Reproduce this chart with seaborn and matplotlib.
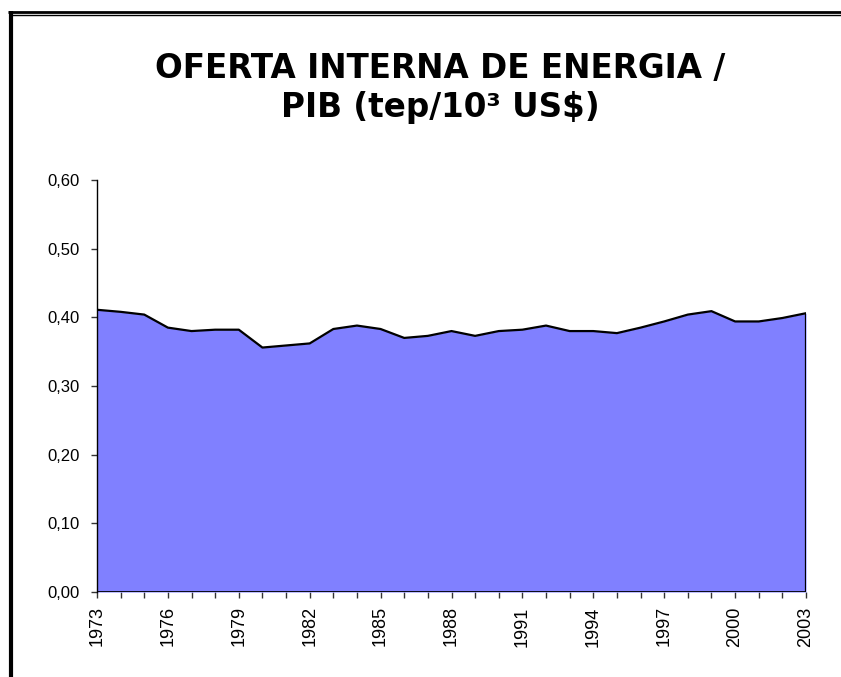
# Oferta interna de energia / PIB (tep/10^3 US$), 1973-2003

import matplotlib
matplotlib.use("Agg")
import matplotlib.pyplot as plt
import matplotlib.ticker as mticker
from matplotlib.lines import Line2D
import seaborn as sns
import pandas as pd

years = list(range(1973, 2004))
oie_pib = [0.411, 0.408, 0.404, 0.385, 0.380, 0.382, 0.382, 0.356, 0.359, 0.362,
           0.383, 0.388, 0.383, 0.370, 0.373, 0.380, 0.373, 0.380, 0.382, 0.388,
           0.380, 0.380, 0.377, 0.385, 0.394, 0.404, 0.409, 0.394, 0.394, 0.399,
           0.406]
label_years = list(range(1973, 2004, 3))
y_ticks = [0.0, 0.1, 0.2, 0.3, 0.4, 0.5, 0.6]

df = pd.DataFrame({"ano": years, "valor": oie_pib})

sns.set_style("ticks")
plt.rcParams["font.family"] = ["Liberation Sans", "DejaVu Sans"]
plt.rcParams["text.color"] = "black"
plt.rcParams["xtick.color"] = "black"
plt.rcParams["ytick.color"] = "black"

W, H = 841, 677
fig = plt.figure(figsize=(W / 100, H / 100), dpi=100)
ax = fig.add_axes([97 / W, 1 - 592 / H, (806 - 97) / W, (592 - 180) / H])

# area under the curve + outline
ax.fill_between(df["ano"], df["valor"], 0, color="#8080FF", linewidth=0, zorder=1)
sns.lineplot(data=df, x="ano", y="valor", ax=ax, color="black", linewidth=1.6, zorder=3)
ax.vlines(years[-1], 0, oie_pib[-1], color="black", linewidth=1.6, zorder=3)
ax.axhline(0, color="black", linewidth=2, zorder=3)

ax.set_xlim(years[0], years[-1])
ax.set_ylim(0, 0.6)
ax.set_xlabel("")
ax.set_ylabel("")

ax.set_xticks(label_years)
ax.set_xticks(years, minor=True)
ax.set_xticklabels([str(y) for y in label_years], rotation=90, fontsize=13)
ax.set_yticks(y_ticks)
ax.yaxis.set_major_formatter(mticker.FuncFormatter(lambda v, p: f"{v:.2f}".replace(".", ",")))
ax.tick_params(axis="y", labelsize=12, length=4.3, width=1, color="#333333", pad=8)
ax.tick_params(axis="x", which="both", length=4.3, width=1, color="#333333", pad=6)

sns.despine(ax=ax, top=True, right=True)
ax.spines["left"].set_linewidth(1)
ax.spines["left"].set_color("black")
ax.spines["bottom"].set_visible(False)

title_font = dict(ha="center", va="baseline", fontsize=23.5, fontweight="bold",
                  family=["DejaVu Sans"], color="black")
fig.text(440 / W, 1 - 78 / H, "OFERTA INTERNA DE ENERGIA /", **title_font)
fig.text(440 / W, 1 - 117 / H, "PIB (tep/10³ US$)", **title_font)

# chart frame (as in the original spreadsheet export)
fig.add_artist(Line2D([8 / W, 1], [1 - 12 / H, 1 - 12 / H], color="black",
                      linewidth=2, solid_capstyle="butt"))
fig.add_artist(Line2D([11 / W, 1], [1 - 15 / H, 1 - 15 / H], color="black",
                      linewidth=1, solid_capstyle="butt"))
fig.add_artist(Line2D([10.5 / W, 10.5 / W], [0, 1 - 11 / H], color="black",
                      linewidth=3, solid_capstyle="butt"))

fig.savefig("out.png", dpi=100)
